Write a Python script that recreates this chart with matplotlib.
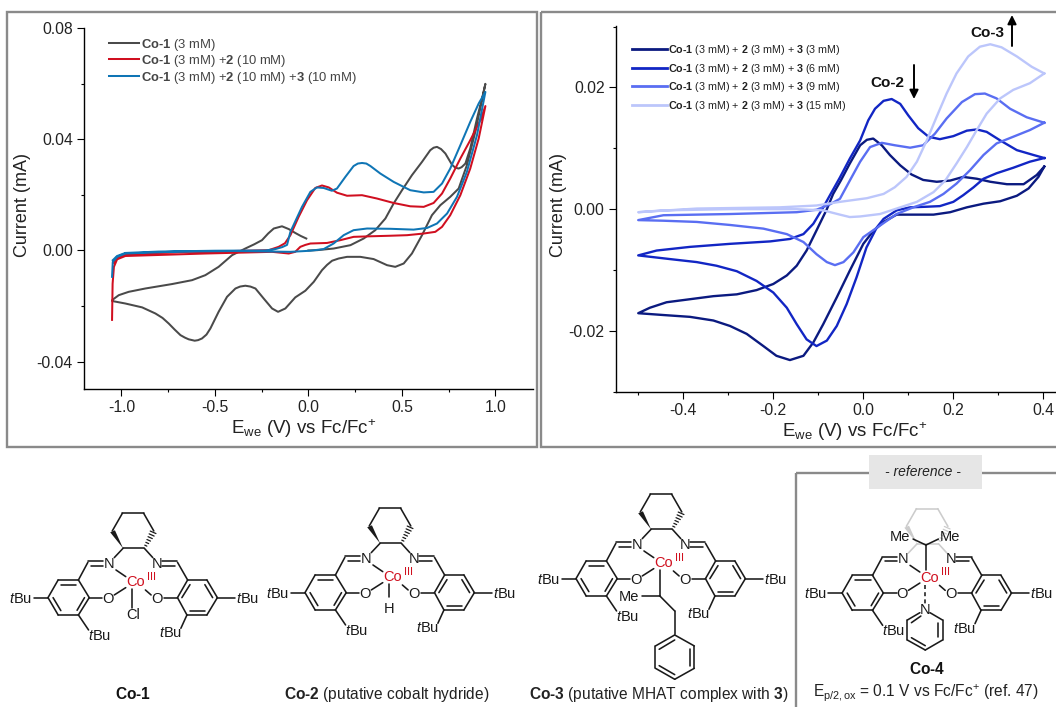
import matplotlib
matplotlib.use("Agg")
import matplotlib.pyplot as plt
from matplotlib.patches import Rectangle, Polygon
from matplotlib.ticker import MultipleLocator, FormatStrFormatter

plt.rcParams['font.family'] = ['Liberation Sans', 'DejaVu Sans']
plt.rcParams['mathtext.fontset'] = 'custom'
plt.rcParams['mathtext.rm'] = 'Liberation Sans'
plt.rcParams['mathtext.it'] = 'Liberation Sans:italic'
plt.rcParams['mathtext.bf'] = 'Liberation Sans:bold'

# left chart, values
co1_e = [-0.011, -0.04, -0.07, -0.105, -0.141, -0.185, -0.215, -0.248, -0.29, -0.337, -0.408, -0.48, -0.551, -0.622,
         -0.729, -0.872, -0.961, -1.014, -1.05, -1.05, -0.979, -0.889, -0.818, -0.78, -0.747, -0.715, -0.684, -0.66, -0.64,
         -0.608, -0.59, -0.569, -0.545, -0.524, -0.48, -0.435, -0.39, -0.365, -0.337, -0.31, -0.283, -0.239, -0.194, -0.162,
         -0.123, -0.07, -0.016, 0.029, 0.073, 0.1, 0.127, 0.162, 0.207, 0.278, 0.349, 0.421, 0.465, 0.51, 0.554, 0.608,
         0.661, 0.706, 0.759, 0.804, 0.848, 0.893, 0.947, 0.929, 0.902, 0.866, 0.84, 0.82, 0.804, 0.786, 0.768, 0.733, 0.71,
         0.688, 0.67, 0.652, 0.608, 0.554, 0.501, 0.456, 0.412, 0.358, 0.296, 0.225, 0.136, 0.046, 0.0]
co1_i = [0.0043, 0.0052, 0.0063, 0.0077, 0.0087, 0.0079, 0.0061, 0.0037, 0.0022, 0.0007, -0.0017, -0.0059, -0.0089,
         -0.0107, -0.0121, -0.0137, -0.0149, -0.0161, -0.0179, -0.0182, -0.0191, -0.0205, -0.0227, -0.0243, -0.0263,
         -0.0285, -0.0305, -0.0314, -0.032, -0.0325, -0.0323, -0.0317, -0.0303, -0.0281, -0.0221, -0.0167, -0.0137, -0.013,
         -0.0127, -0.013, -0.0137, -0.0173, -0.0209, -0.0221, -0.0209, -0.0169, -0.0145, -0.0113, -0.0071, -0.0052, -0.0037,
         -0.0029, -0.0023, -0.0023, -0.0031, -0.0053, -0.0059, -0.0047, -0.0011, 0.0055, 0.0127, 0.0163, 0.0193, 0.0223,
         0.0307, 0.0427, 0.06, 0.0547, 0.0475, 0.0367, 0.0313, 0.03, 0.0295, 0.0298, 0.0309, 0.0349, 0.0365, 0.0373, 0.037,
         0.0361, 0.0319, 0.0271, 0.0217, 0.0169, 0.0115, 0.0073, 0.0043, 0.0019, 0.0007, 0.0001, 0.0]

red_e = [-1.05, -1.047, -1.04, -1.023, -0.979, -0.55, -0.194, -0.105, -0.07, -0.043, -0.016, 0.011, 0.1, 0.171, 0.242,
         0.332, 0.439, 0.528, 0.617, 0.679, 0.715, 0.759, 0.813, 0.866, 0.911, 0.947, 0.92, 0.866, 0.813, 0.759, 0.715,
         0.67, 0.617, 0.545, 0.456, 0.367, 0.287, 0.207, 0.153, 0.109, 0.073, 0.037, -0.007, -0.052, -0.096, -0.125,
         -0.159, -0.212, -0.4, -0.7, -0.979, -1.023, -1.04]
red_i = [-0.025, -0.012, -0.0059, -0.0032, -0.002, -0.0011, -0.0005, -0.0011, -0.0005, 0.0013, 0.002, 0.0025, 0.0027,
         0.0037, 0.0049, 0.0051, 0.0053, 0.0055, 0.0061, 0.0067, 0.0085, 0.0127, 0.0199, 0.0295, 0.0403, 0.052, 0.0469,
         0.0397, 0.0331, 0.0259, 0.0205, 0.0171, 0.0157, 0.0159, 0.0171, 0.0187, 0.0199, 0.0197, 0.0208, 0.0227, 0.0234,
         0.0225, 0.0181, 0.0121, 0.0055, 0.0026, 0.0013, 0.0001, -0.0002, -0.0006, -0.0014, -0.0026, -0.0045]

blue_e = [-1.05, -1.046, -1.023, -0.979, -0.7, -0.4, -0.096, 0.011, 0.082, 0.135, 0.189, 0.242, 0.314, 0.439, 0.563,
          0.635, 0.688, 0.742, 0.795, 0.848, 0.902, 0.947, 0.911, 0.866, 0.813, 0.759, 0.715, 0.67, 0.617, 0.545, 0.456,
          0.385, 0.332, 0.31, 0.287, 0.265, 0.242, 0.198, 0.153, 0.126, 0.082, 0.046, 0.011, -0.034, -0.096, -0.114, -0.14,
          -0.176, -0.23, -0.5, -0.8, -0.979, -1.023, -1.046]
blue_i = [-0.0095, -0.0041, -0.0023, -0.0011, -0.0004, -0.0002, -0.0005, -0.0001, 0.0005, 0.0025, 0.0055, 0.0073, 0.0079,
          0.0078, 0.0075, 0.0081, 0.0097, 0.0133, 0.0193, 0.0283, 0.0415, 0.0571, 0.0529, 0.0463, 0.0379, 0.0295, 0.0241,
          0.0211, 0.0209, 0.0217, 0.0247, 0.0277, 0.0304, 0.0313, 0.0315, 0.0313, 0.0304, 0.0265, 0.0223, 0.0215, 0.0225,
          0.0227, 0.0211, 0.0157, 0.0067, 0.002, 0.0012, 0.0005, 0.0, -0.0001, -0.0004, -0.0009, -0.002, -0.0035]

# right chart, values
mm3_e = [0.402, 0.389, 0.367, 0.341, 0.304, 0.267, 0.23, 0.193, 0.156, 0.111, 0.074, 0.045, 0.022, 0.0, -0.03, -0.059,
         -0.089, -0.111, -0.133, -0.163, -0.193, -0.222, -0.259, -0.296, -0.333, -0.385, -0.444, -0.5, -0.474, -0.437,
         -0.385, -0.333, -0.281, -0.237, -0.2, -0.17, -0.148, -0.126, -0.104, -0.081, -0.067, -0.05, -0.03, -0.007,
         0.008, 0.022, 0.041, 0.059, 0.082, 0.107, 0.133, 0.163, 0.193, 0.222, 0.252, 0.282, 0.319, 0.356, 0.385, 0.402]
mm3_i = [0.007, 0.0053, 0.0034, 0.0022, 0.0013, 0.0009, 0.0003, -0.0005, -0.0009, -0.0009, -0.0009, -0.0021, -0.0036,
         -0.0057, -0.0101, -0.0145, -0.0189, -0.0219, -0.0241, -0.0248, -0.0241, -0.0225, -0.0205, -0.0192, -0.0183,
         -0.0177, -0.0174, -0.0171, -0.0162, -0.0153, -0.0148, -0.0143, -0.014, -0.0133, -0.0123, -0.0109, -0.0093,
         -0.0068, -0.0035, 0.0, 0.0025, 0.0047, 0.0075, 0.0105, 0.0114, 0.0116, 0.0105, 0.0089, 0.0072, 0.0057, 0.0048,
         0.0045, 0.0047, 0.0053, 0.005, 0.0045, 0.0041, 0.0041, 0.0056, 0.007]

mm6_e = [0.402, 0.37, 0.333, 0.296, 0.267, 0.245, 0.222, 0.2, 0.17, 0.141, 0.104, 0.074, 0.045, 0.03, 0.007, -0.015,
         -0.037, -0.059, -0.081, -0.104, -0.126, -0.148, -0.17, -0.2, -0.237, -0.281, -0.326, -0.37, -0.43, -0.5, -0.459,
         -0.385, -0.296, -0.207, -0.163, -0.133, -0.111, -0.089, -0.074, -0.052, -0.03, -0.007, 0.011, 0.026, 0.045,
         0.063, 0.082, 0.1, 0.122, 0.145, 0.17, 0.2, 0.23, 0.252, 0.274, 0.304, 0.341, 0.378, 0.402]
mm6_i = [0.0084, 0.0078, 0.0068, 0.0059, 0.005, 0.0036, 0.0023, 0.0012, 0.0005, 0.0004, 0.0003, -0.0002, -0.0016, -0.003,
         -0.0063, -0.0112, -0.0156, -0.0192, -0.0216, -0.0225, -0.0214, -0.0189, -0.0162, -0.0137, -0.0118, -0.0102,
         -0.0093, -0.0087, -0.0082, -0.0076, -0.0068, -0.0062, -0.0057, -0.0053, -0.0049, -0.0041, -0.0024, 0.0003,
         0.0023, 0.0052, 0.0083, 0.0113, 0.0146, 0.0165, 0.0178, 0.0181, 0.0173, 0.0154, 0.0133, 0.0119, 0.0115, 0.012,
         0.0129, 0.0131, 0.0127, 0.0113, 0.0097, 0.0089, 0.0084]

mm9_e = [0.402, 0.37, 0.333, 0.296, 0.267, 0.237, 0.207, 0.178, 0.148, 0.111, 0.074, 0.037, 0.0, -0.022, -0.044, -0.063,
         -0.081, -0.104, -0.133, -0.17, -0.222, -0.296, -0.37, -0.444, -0.5, -0.444, -0.296, -0.148, -0.104, -0.074,
         -0.052, -0.03, -0.007, 0.015, 0.041, 0.07, 0.104, 0.133, 0.159, 0.185, 0.219, 0.248, 0.27, 0.296, 0.326, 0.363,
         0.402]
mm9_i = [0.0142, 0.013, 0.0119, 0.0108, 0.0089, 0.0064, 0.0042, 0.0025, 0.0012, 0.0003, -0.0008, -0.0027, -0.0046, -0.0071,
         -0.0087, -0.0092, -0.0087, -0.0074, -0.0054, -0.0041, -0.0032, -0.0026, -0.0021, -0.0019, -0.0018, -0.001,
         -0.0008, -0.0005, -0.0001, 0.0008, 0.0017, 0.0047, 0.0078, 0.0102, 0.0109, 0.0105, 0.0101, 0.0105, 0.0124, 0.0149,
         0.0176, 0.0189, 0.019, 0.0182, 0.0165, 0.0151, 0.0142]

mm15_e = [0.402, 0.37, 0.333, 0.304, 0.274, 0.252, 0.23, 0.207, 0.182, 0.156, 0.119, 0.074, 0.037, -0.007, -0.03, -0.052,
          -0.089, -0.148, -0.296, -0.444, -0.5, -0.37, -0.185, -0.104, -0.052, 0.008, 0.045, 0.07, 0.096, 0.119, 0.141,
          0.163, 0.185, 0.207, 0.233, 0.259, 0.282, 0.307, 0.341, 0.374, 0.402]
mm15_i = [0.0223, 0.0207, 0.0196, 0.0182, 0.0157, 0.013, 0.0102, 0.0075, 0.0047, 0.0028, 0.0012, 0.0001, -0.0008, -0.0012,
          -0.0013, -0.0009, -0.0002, 0.0, 0.0, -0.0002, -0.0005, 0.0001, 0.0003, 0.0006, 0.0012, 0.0018, 0.0025, 0.0036,
          0.0053, 0.0078, 0.0113, 0.0152, 0.019, 0.0223, 0.0251, 0.0267, 0.0271, 0.0266, 0.0251, 0.0234, 0.0223]

left_series = [(co1_e, co1_i, '#4a4a4a', r'$\mathbf{Co‐1}$ (3 mM)'),
               (red_e, red_i, '#d00f20', r'$\mathbf{Co‐1}$ (3 mM) +$\mathbf{2}$ (10 mM)'),
               (blue_e, blue_i, '#0f75b5', r'$\mathbf{Co‐1}$ (3 mM) +$\mathbf{2}$ (10 mM) +$\mathbf{3}$ (10 mM)')]
right_series = [(mm3_e, mm3_i, '#0b1a80', r'$\mathbf{Co‐1}$ (3 mM) + $\mathbf{2}$ (3 mM) + $\mathbf{3}$ (3 mM)'),
                (mm6_e, mm6_i, '#1226c4', r'$\mathbf{Co‐1}$ (3 mM) + $\mathbf{2}$ (3 mM) + $\mathbf{3}$ (6 mM)'),
                (mm9_e, mm9_i, '#5a6ef2', r'$\mathbf{Co‐1}$ (3 mM) + $\mathbf{2}$ (3 mM) + $\mathbf{3}$ (9 mM)'),
                (mm15_e, mm15_i, '#bcc6fb', r'$\mathbf{Co‐1}$ (3 mM) + $\mathbf{2}$ (3 mM) + $\mathbf{3}$ (15 mM)')]

W, H = 1056, 707
XLAB = r'E$_{\mathrm{we}}$ (V) vs Fc/Fc$^{+}$'


def make_axes(x0, x1, y0, y1):
    # pixel box to figure fraction, y measured from the top
    return fig.add_axes([x0 / W, 1 - y1 / H, (x1 - x0) / W, (y1 - y0) / H])


def style(ax):
    ax.spines['top'].set_visible(False)
    ax.spines['right'].set_visible(False)
    ax.spines['left'].set_linewidth(1.0)
    ax.spines['bottom'].set_linewidth(1.0)
    ax.tick_params(which='major', length=5, width=0.8, labelsize=11.3, pad=3, labelcolor='#222222')
    ax.tick_params(which='minor', length=2.5, width=0.8)
    ax.set_ylabel('Current (mA)', fontsize=13, color='#222222')
    ax.set_xlabel(XLAB, fontsize=13.5, color='#222222', labelpad=1)


fig = plt.figure(figsize=(W / 100, H / 100), dpi=100)

# left chart
ax1 = make_axes(84, 532.7, 28.3, 389.3)
for e, i, c, lab in left_series:
    ax1.plot(e, i, color=c, lw=1.45, label=lab, solid_joinstyle='round')
ax1.set_xlim(-1.2, 1.2)
ax1.set_ylim(-0.05, 0.08)
ax1.xaxis.set_major_locator(MultipleLocator(0.5))
ax1.xaxis.set_minor_locator(MultipleLocator(0.25))
ax1.yaxis.set_major_locator(MultipleLocator(0.04))
ax1.yaxis.set_minor_locator(MultipleLocator(0.02))
ax1.xaxis.set_major_formatter(FormatStrFormatter('%.1f'))
ax1.yaxis.set_major_formatter(FormatStrFormatter('%.2f'))
style(ax1)
ax1.yaxis.set_label_coords(-0.118, 0.51)
ax1.xaxis.set_label_coords(0.49, -0.078)
ax1.legend(loc='upper left', bbox_to_anchor=(0.056, 0.977), frameon=False, fontsize=9.4, labelcolor='#444444',
           handlelength=2.25, handletextpad=0.22, labelspacing=0.035, borderpad=0, borderaxespad=0)

# right chart
ax2 = make_axes(615.7, 1056, 26, 391.7)
for e, i, c, lab in right_series:
    ax2.plot(e, i, color=c, lw=1.7, label=lab, solid_joinstyle='round')
ax2.set_xlim(-0.55, 0.428)
ax2.set_ylim(-0.03, 0.0301)
ax2.xaxis.set_major_locator(MultipleLocator(0.2))
ax2.xaxis.set_minor_locator(MultipleLocator(0.1))
ax2.yaxis.set_major_locator(MultipleLocator(0.02))
ax2.yaxis.set_minor_locator(MultipleLocator(0.01))
ax2.xaxis.set_major_formatter(FormatStrFormatter('%.1f'))
ax2.yaxis.set_major_formatter(FormatStrFormatter('%.2f'))
style(ax2)
ax2.yaxis.set_label_coords(-0.11, 0.51)
ax2.xaxis.set_label_coords(0.5435, -0.078)
ax2.legend(loc='upper left', bbox_to_anchor=(0.036, 0.953), frameon=False, fontsize=7.75, labelcolor='#222222',
           handlelength=3.3, handletextpad=0.1, labelspacing=0.42, borderpad=0, borderaxespad=0)
for lg in ax2.get_legend().get_lines():
    lg.set_linewidth(2.0)

# overlay in image pixels, for the panels and the drawn structures
ov = fig.add_axes([0, 0, 1, 1], zorder=5)
ov.set_xlim(0, W)
ov.set_ylim(H, 0)
ov.axis('off')
ov.patch.set_alpha(0)

BOX = '#8a8a8a'
ov.add_patch(Rectangle((7, 11.7), 529.7, 435, fill=False, ec=BOX, lw=1.7))
ov.add_patch(Rectangle((541, 11.7), 530, 435, fill=False, ec=BOX, lw=1.7))
ov.add_patch(Rectangle((796, 472.5), 270, 260, fill=False, ec=BOX, lw=1.7))
ov.add_patch(Rectangle((869, 455), 113, 34, fc='#e6e6e6', ec='none'))
ov.text(923, 472, '- reference -', style='italic', fontsize=10, ha='center', va='center', color='#222222')

ARROW = dict(arrowstyle='-|>', color='black', lw=1.4, shrinkA=0, shrinkB=0, mutation_scale=13)
ov.text(887, 83, 'Co-2', fontweight='bold', fontsize=11, ha='center', va='center', color='#111111')
ov.text(987, 33, 'Co-3', fontweight='bold', fontsize=11, ha='center', va='center', color='#111111')
ov.annotate('', xy=(914, 99), xytext=(914, 65), arrowprops=ARROW)
ov.annotate('', xy=(1012, 15), xytext=(1012, 46), arrowprops=ARROW)

BOND = '#1a1a1a'
RED = '#d0101f'


def salen(cx, cy, back='#1a1a1a'):
    # template taken from Co-1, Co atom sits at 402,382 in the 2.958x/3x crop
    def P(zx, zy):
        return cx + (zx - 402) / 2.958, cy + (zy - 382) / 3

    def seg(a, b, c=BOND, lw=1.15, ls='-'):
        pa, pb = P(*a), P(*b)
        ov.plot([pa[0], pb[0]], [pa[1], pb[1]], color=c, lw=lw, ls=ls, solid_capstyle='round')

    def txt(zx, zy, s, c='#1a1a1a', fs=10.5):
        px, py = P(zx, zy)
        ov.text(px, py, s, color=c, fontsize=fs, ha='center', va='center')

    # cyclohexane backbone
    hexa = [(364, 280), (427, 280), (455, 228), (425, 175), (362, 175), (332, 228)]
    for a, b in [(0, 1), (2, 3), (3, 4), (4, 5)]:
        seg(hexa[a], hexa[b], back)
    p0, p5a, p5b = P(364, 280), P(326, 232), P(340, 226)
    ov.add_patch(Polygon([p0, p5a, p5b], fc=back, ec='none'))
    for k in range(1, 7):
        f = k / 6.5
        mx, my = 427 + (455 - 427) * f, 280 + (228 - 280) * f
        seg((mx - 2 - 7 * f, my - 1 - 3 * f), (mx + 2 + 7 * f, my + 1 + 3 * f), back, lw=0.9)
    seg((364, 280), (338, 308), back)
    seg((427, 280), (452, 308), back)

    # imines and metal bonds
    seg((305, 319), (260, 319))
    seg((305, 332), (268, 332))
    seg((260, 322), (232, 375))
    seg((480, 319), (525, 319))
    seg((480, 332), (518, 332))
    seg((525, 322), (555, 375))
    txt(322, 326, 'N')
    txt(465, 326, 'N')
    txt(320, 431, 'O')
    txt(465, 431, 'O')
    seg((343, 345), (372, 365))
    seg((338, 420), (372, 398))
    seg((447, 420), (430, 405))
    seg((441, 342), (441, 342), lw=1.5)
    seg((438, 352), (438, 352), lw=1.5)
    txt(402, 382, 'Co', RED)
    txt(447, 365, 'III', RED, fs=8)

    # two aryl rings with tBu groups
    left = [(232, 375), (172, 375), (142, 428), (172, 480), (232, 480), (264, 428)]
    right = [(555, 375), (612, 375), (643, 428), (612, 480), (553, 480), (525, 428)]
    for ring in (left, right):
        for k in range(6):
            seg(ring[k], ring[(k + 1) % 6])
    seg((180, 389), (226, 389))
    seg((157, 428), (180, 467))
    seg((250, 428), (228, 466))
    seg((538, 428), (562, 389))
    seg((606, 389), (629, 428))
    seg((562, 467), (606, 467))
    seg((264, 428), (303, 428))
    seg((525, 428), (484, 428))
    seg((142, 428), (100, 428))
    seg((643, 428), (695, 428))
    seg((232, 480), (262, 525))
    seg((553, 480), (535, 520))
    for zx, zy in [(62, 431), (732, 431), (293, 543), (503, 535)]:
        txt(zx, zy, r'$\mathit{t}$Bu')
    return P, seg, txt


# Co-1 with chloride
P, seg, txt = salen(135.9, 582.3)
seg((390, 402), (390, 458))
txt(395, 480, 'Cl')

# Co-2 with hydride
P, seg, txt = salen(392.9, 577.3)
seg((390, 402), (390, 440))
txt(390, 477, 'H')

# Co-3 with alkyl group and phenyl ring
P, seg, txt = salen(663.9, 563.3)
seg((389, 402), (389, 479))
seg((389, 479), (337, 479))
seg((389, 479), (434, 525))
seg((434, 525), (434, 595))
txt(300, 482, 'Me')
ph = [(434, 597), (492, 630), (492, 697), (434, 730), (377, 697), (377, 630)]
for k in range(6):
    seg(ph[k], ph[(k + 1) % 6])
seg((434, 612), (388, 640))
seg((480, 638), (480, 689))
seg((388, 689), (434, 716))

# Co-4 with pyridine, backbone greyed out
P, seg, txt = salen(930, 577.7, back='#cccccc')
seg((390, 284), (390, 360))
seg((390, 284), (352, 266))
seg((390, 284), (427, 266))
txt(312, 259, 'Me')
txt(462, 259, 'Me')
seg((388, 404), (388, 462), ls=(0, (2.5, 2)))
txt(388, 479, 'N')
py = [(402, 487), (439, 509), (439, 569), (388, 599), (335, 569), (335, 509), (372, 487)]
for k in range(6):
    seg(py[k], py[k + 1])
seg((427, 517), (427, 560))
seg((347, 562), (388, 586))
seg((347, 517), (375, 497))

# captions
ov.text(133.5, 694, r'$\mathbf{Co‐1}$', fontsize=11.2, ha='center', va='center', color='#111111')
ov.text(387, 694, r'$\mathbf{Co‐2}$ (putative cobalt hydride)', fontsize=11.2, ha='center', va='center', color='#222222')
ov.text(659, 694, r'$\mathbf{Co‐3}$ (putative MHAT complex with $\mathbf{3}$)', fontsize=11.2, ha='center', va='center', color='#222222')
ov.text(927, 669, r'$\mathbf{Co‐4}$', fontsize=11.2, ha='center', va='center', color='#111111')
ov.text(926, 693, r'E$_{\mathrm{p/2,ox}}$ = 0.1 V vs Fc/Fc$^{+}$ (ref. 47)', fontsize=11.2, ha='center', va='center', color='#222222')

fig.savefig('out.png', dpi=100)
